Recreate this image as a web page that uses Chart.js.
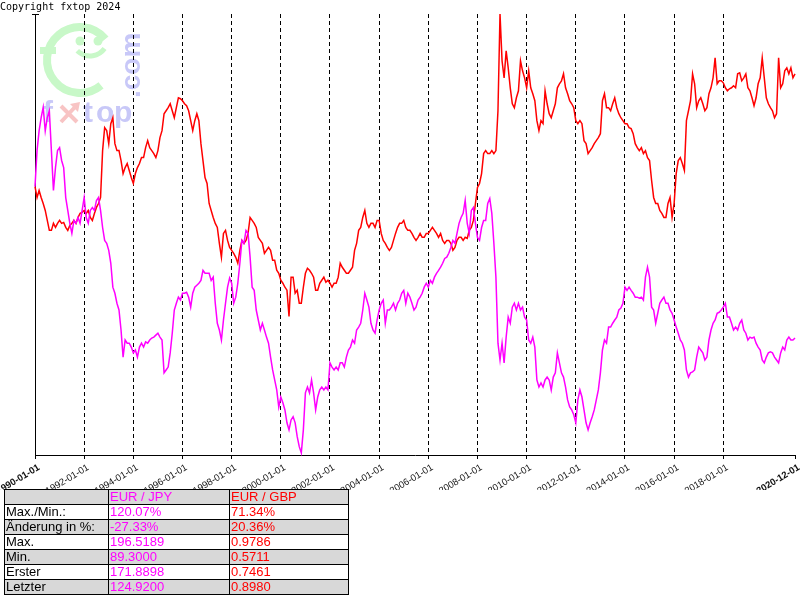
<!DOCTYPE html>
<html>
<head>
<meta charset="utf-8">
<script src="https://cdn.jsdelivr.net/npm/chart.js@4.4.1/dist/chart.umd.min.js"></script>
<style>
body { margin: 0; background: #fff; width: 800px; height: 600px; overflow: hidden; }
#wrap { position: absolute; left: 0; top: 0; width: 800px; height: 490px; }
#stats { position: absolute; left: 4px; top: 489px; border-collapse: collapse; table-layout: fixed;
  font: 13px "Liberation Sans", Arial, sans-serif; }
#stats td { border: 1px solid #000; height: 14px; line-height: 14px; padding: 0 0 0 1px; white-space: nowrap; overflow: hidden; }
#stats tr.g td { background: #d8d8d8; }
#stats td.j { color: #ff00ff; }
#stats td.r { color: #ff0000; }
</style>
</head>
<body>
<div id="wrap"><canvas id="chart" width="800" height="490"></canvas></div>
<table id="stats">
  <colgroup><col style="width:104px"><col style="width:121px"><col style="width:119px"></colgroup>
  <tbody id="statsBody"></tbody>
</table>
<script>
// monthly values, 1990-01 .. 2020-12
const jpyRates = [
  171.89, 183.1, 189.2, 193.3, 196.5, 189.2, 193.3, 195.4, 183.1, 170.7, 177.8, 183.1,
  184.0, 180.0, 177.8, 168.5, 164.5, 160.5, 157.4, 161.4, 160.5, 162.3, 160.5, 164.5,
  168.5, 162.3, 160.5, 164.5, 165.4, 164.5, 167.6, 168.5, 164.5, 159.2, 155.2, 154.3,
  152.1, 148.1, 140.7, 138.8, 135.7, 133.6, 127.4, 119.0, 124.3, 123.3, 123.3, 122.1,
  120.3, 121.2, 119.0, 122.1, 123.3, 122.1, 123.7, 123.3, 124.3, 124.9, 125.2, 125.8,
  126.4, 125.2, 124.3, 114.1, 115.0, 115.9, 120.3, 126.4, 133.6, 135.7, 137.6, 136.7,
  138.8, 138.8, 139.1, 137.6, 134.5, 138.8, 140.7, 141.3, 141.9, 142.8, 145.9, 145.0,
  145.0, 145.0, 142.8, 143.8, 135.7, 129.5, 127.4, 124.3, 130.5, 135.7, 140.7, 143.5,
  141.9, 135.7, 137.6, 141.9, 148.1, 155.2, 154.3, 158.3, 157.4, 150.0, 140.7, 139.7,
  133.6, 130.5, 127.4, 129.5, 127.4, 125.2, 123.3, 119.0, 115.0, 111.9, 108.8, 103.5,
  106.6, 104.8, 102.6, 98.6, 96.4, 99.5, 100.5, 98.6, 94.3, 91.2, 89.3, 96.4,
  107.9, 109.7, 107.9, 111.9, 107.9, 102.6, 106.6, 108.8, 109.7, 108.8, 109.7, 108.8,
  117.2, 115.9, 115.0, 115.9, 115.0, 117.2, 117.2, 115.9, 119.0, 121.2, 122.1, 124.3,
  123.3, 127.4, 128.3, 129.5, 133.6, 138.8, 136.7, 134.5, 129.5, 127.4, 126.4, 130.5,
  133.6, 135.7, 136.7, 129.5, 133.6, 133.6, 134.5, 135.7, 133.6, 135.7, 136.7, 138.8,
  139.7, 135.7, 138.8, 137.6, 135.7, 133.6, 134.5, 136.7, 137.6, 138.8, 140.7, 141.9,
  140.7, 142.8, 141.9, 143.8, 145.0, 145.9, 146.9, 148.1, 149.6, 150.0, 151.2, 153.0,
  155.2, 154.3, 157.4, 160.5, 162.3, 163.6, 167.6, 160.5, 157.4, 164.5, 165.4, 160.5,
  156.1, 155.2, 159.2, 161.4, 161.4, 166.7, 168.2, 163.6, 154.3, 143.8, 123.3, 118.1,
  123.3, 117.2, 125.2, 131.4, 129.5, 134.5, 135.7, 133.6, 135.7, 133.6, 134.5, 131.4,
  130.5, 124.3, 123.3, 125.2, 122.1, 111.9, 109.7, 111.0, 109.7, 111.9, 112.8, 111.9,
  108.8, 112.8, 114.1, 120.3, 117.2, 114.1, 112.8, 109.7, 105.7, 103.5, 102.6, 101.1,
  98.6, 105.7, 108.8, 106.6, 102.6, 98.6, 96.4, 98.6, 100.5, 102.6, 105.7, 108.8,
  114.1, 121.2, 124.3, 123.3, 128.3, 128.3, 129.5, 130.5, 131.4, 133.6, 134.2, 135.7,
  140.7, 139.7, 140.7, 139.7, 138.8, 137.6, 137.6, 137.3, 137.6, 136.7, 143.8, 146.9,
  143.8, 134.5, 133.6, 129.5, 132.6, 135.7, 136.7, 137.6, 135.7, 135.7, 133.6, 132.6,
  130.5, 128.3, 126.4, 124.3, 123.3, 121.2, 115.0, 112.8, 114.1, 114.4, 115.0, 119.0,
  122.1, 121.2, 120.3, 118.1, 119.0, 124.3, 127.4, 129.5, 130.5, 132.6, 132.9, 133.6,
  134.5, 135.7, 131.4, 131.4, 129.5, 127.4, 128.3, 127.4, 129.5, 130.5, 127.4, 126.4,
  124.3, 125.2, 124.9, 125.2, 123.3, 122.1, 121.2, 118.1, 117.2, 119.0, 120.3, 120.6,
  120.3, 119.0, 118.1, 117.2, 120.3, 122.1, 121.2, 124.3, 125.2, 124.3, 124.3, 124.92
];

const gbpRates = [
  0.7461, 0.7315, 0.7409, 0.7315, 0.7234, 0.7140, 0.7006, 0.6872, 0.6872, 0.6966, 0.6912, 0.6966,
  0.7006, 0.6966, 0.6979, 0.6912, 0.6872, 0.6939, 0.6966, 0.7006, 0.6966, 0.7046, 0.7100, 0.7113,
  0.7140, 0.7100, 0.7140, 0.7046, 0.7006, 0.7100, 0.7181, 0.7234, 0.7315, 0.7946, 0.8255, 0.8215,
  0.8040, 0.8309, 0.8389, 0.8040, 0.7946, 0.7946, 0.7812, 0.7637, 0.7718, 0.7772, 0.7678, 0.7584,
  0.7503, 0.7637, 0.7718, 0.7772, 0.7852, 0.7852, 0.7986, 0.8080, 0.7986, 0.7946, 0.7906, 0.7852,
  0.7946, 0.8121, 0.8215, 0.8443, 0.8483, 0.8524, 0.8577, 0.8483, 0.8389, 0.8524, 0.8658, 0.8645,
  0.8618, 0.8577, 0.8550, 0.8483, 0.8349, 0.8215, 0.8349, 0.8443, 0.8349, 0.8040, 0.7812, 0.7584,
  0.7503, 0.7234, 0.7140, 0.7046, 0.6966, 0.6912, 0.6697, 0.6509, 0.6831, 0.6872, 0.6737, 0.6643,
  0.6603, 0.6563, 0.6509, 0.6429, 0.6603, 0.6737, 0.6697, 0.6737, 0.6831, 0.7046, 0.7006, 0.6966,
  0.6912, 0.6778, 0.6737, 0.6697, 0.6563, 0.6603, 0.6643, 0.6603, 0.6469, 0.6469, 0.6335, 0.6294,
  0.6200, 0.6160, 0.6106, 0.6066, 0.5711, 0.6241, 0.6241, 0.6026, 0.6066, 0.5891, 0.5891, 0.6106,
  0.6294, 0.6361, 0.6335, 0.6294, 0.6241, 0.6066, 0.6066, 0.6160, 0.6200, 0.6241, 0.6173, 0.6200,
  0.6160, 0.6106, 0.6160, 0.6160, 0.6241, 0.6429, 0.6375, 0.6335, 0.6294, 0.6294, 0.6335, 0.6375,
  0.6603, 0.6697, 0.6872, 0.6912, 0.7046, 0.7140, 0.6966, 0.6912, 0.6966, 0.6966, 0.6912, 0.7006,
  0.7006, 0.6831, 0.6737, 0.6697, 0.6643, 0.6603, 0.6643, 0.6737, 0.6831, 0.6912, 0.6966, 0.6966,
  0.7006, 0.6912, 0.6872, 0.6872, 0.6831, 0.6778, 0.6737, 0.6778, 0.6831, 0.6778, 0.6778, 0.6831,
  0.6831, 0.6872, 0.6912, 0.6872, 0.6831, 0.6778, 0.6831, 0.6737, 0.6697, 0.6737, 0.6737, 0.6697,
  0.6603, 0.6643, 0.6737, 0.6778, 0.6778, 0.6737, 0.6778, 0.6764, 0.6872, 0.6912, 0.7006, 0.7234,
  0.7449, 0.7503, 0.7637, 0.7906, 0.7946, 0.7906, 0.7906, 0.7946, 0.7906, 0.7946, 0.8483, 0.9786,
  0.9155, 0.8926, 0.9289, 0.9061, 0.8792, 0.8577, 0.8524, 0.8658, 0.8752, 0.9155, 0.9021, 0.8926,
  0.8792, 0.9021, 0.8792, 0.8712, 0.8618, 0.8349, 0.8215, 0.8349, 0.8309, 0.8752, 0.8577, 0.8443,
  0.8389, 0.8483, 0.8577, 0.8792, 0.8846, 0.8886, 0.8980, 0.8792, 0.8712, 0.8618, 0.8577, 0.8524,
  0.8349, 0.8309, 0.8349, 0.8309, 0.8080, 0.8040, 0.7906, 0.7946, 0.7986, 0.8040, 0.8080, 0.8121,
  0.8174, 0.8618, 0.8712, 0.8524, 0.8524, 0.8483, 0.8577, 0.8658, 0.8524, 0.8443, 0.8389, 0.8349,
  0.8309, 0.8309, 0.8255, 0.8242, 0.8174, 0.8040, 0.7986, 0.7946, 0.7986, 0.7906, 0.7946, 0.7852,
  0.7812, 0.7543, 0.7315, 0.7234, 0.7234, 0.7140, 0.7100, 0.7046, 0.7046, 0.7234, 0.7315, 0.7046,
  0.7234, 0.7637, 0.7812, 0.7852, 0.7772, 0.7678, 0.8349, 0.8483, 0.8618, 0.8980, 0.8846, 0.8524,
  0.8618, 0.8658, 0.8577, 0.8483, 0.8524, 0.8712, 0.8792, 0.8926, 0.9195, 0.8846, 0.8886, 0.8886,
  0.8859, 0.8792, 0.8752, 0.8779, 0.8792, 0.8819, 0.8792, 0.8980, 0.8994, 0.8886, 0.8926, 0.8980,
  0.8792, 0.8752, 0.8658, 0.8550, 0.8658, 0.8846, 0.8926, 0.9195, 0.8926, 0.8658, 0.8577, 0.8524,
  0.8483, 0.8389, 0.8443, 0.9195, 0.8792, 0.8846, 0.9021, 0.9061, 0.8980, 0.9061, 0.8926, 0.8980
];

// x ticks: month index since 1990-01
const tickMonths = [0, 24, 48, 72, 96, 120, 144, 168, 192, 216, 240, 264, 288, 312, 336, 371];
const tickLabels = ['1990-01-01', '1992-01-01', '1994-01-01', '1996-01-01', '1998-01-01', '2000-01-01',
  '2002-01-01', '2004-01-01', '2006-01-01', '2008-01-01', '2010-01-01', '2012-01-01',
  '2014-01-01', '2016-01-01', '2018-01-01', '2020-12-01'];

// stats table
const pairs = ['EUR / JPY', 'EUR / GBP'];
const statRows = ['Max./Min.:', 'Änderung in %:', 'Max.', 'Min.', 'Erster', 'Letzter'];
const jpyStats = ['120.07%', '-27.33%', '196.5189', '89.3000', '171.8898', '124.9200'];
const gbpStats = ['71.34%', '20.36%', '0.9786', '0.5711', '0.7461', '0.8980'];

const jpyFirst = 171.8898, jpyMax = 196.5189, jpyMin = 89.3;
const gbpFirst = 0.7461, gbpMax = 0.9786, gbpMin = 0.5711;

// both lines are drawn relative to their first value
const yMin = Math.min(jpyMin / jpyFirst, gbpMin / gbpFirst) - 0.004;
const yMax = Math.max(jpyMax / jpyFirst, gbpMax / gbpFirst);

let body = '<tr class="g"><td></td><td class="j">' + pairs[0] + '</td><td class="r">' + pairs[1] + '</td></tr>';
statRows.forEach((lab, i) => {
  body += '<tr class="' + (i % 2 ? 'g' : '') + '"><td>' + lab + '</td><td class="j">' + jpyStats[i] +
    '</td><td class="r">' + gbpStats[i] + '</td></tr>';
});
document.getElementById('statsBody').innerHTML = body;

const lastTick = tickMonths.length - 1;
const isEnd = c => c.index === 0 || c.index === lastTick;

// watermark + copyright behind the grid, axis cap on top
const decor = {
  id: 'decor',
  beforeDraw(chart) {
    const ctx = chart.ctx;
    ctx.save();
    ctx.fillStyle = '#000';
    ctx.font = '10px "DejaVu Sans Mono", monospace';
    ctx.textBaseline = 'alphabetic';
    ctx.fillText('Copyright fxtop 2024', 0, 10);

    // smiley
    ctx.strokeStyle = '#c8f8c8';
    ctx.fillStyle = '#c8f8c8';
    ctx.lineWidth = 8;
    ctx.beginPath();
    ctx.arc(80, 60, 33, -0.22 * Math.PI, 0.28 * Math.PI, true);
    ctx.stroke();
    ctx.fillRect(40, 47, 16, 7);
    ctx.beginPath(); ctx.arc(80, 41, 4.5, 0, 2 * Math.PI); ctx.fill();
    ctx.beginPath(); ctx.arc(98, 41, 4.5, 0, 2 * Math.PI); ctx.fill();
    ctx.lineWidth = 5;
    ctx.beginPath();
    ctx.arc(90, 38, 18, 0.2 * Math.PI, 0.75 * Math.PI);
    ctx.stroke();

    // fxtop
    ctx.fillStyle = '#c8c8f8';
    ctx.font = 'bold 30px "Liberation Sans", Arial, sans-serif';
    ctx.fillText('f', 43, 122);
    ctx.fillText('t', 83, 122);
    ctx.fillText('o', 96, 122);
    ctx.fillText('p', 114, 122);
    ctx.strokeStyle = '#f8c4c4';
    ctx.lineWidth = 4;
    ctx.beginPath();
    ctx.moveTo(61, 106); ctx.lineTo(77, 122);
    ctx.moveTo(61, 122); ctx.lineTo(76, 106);
    ctx.stroke();
    ctx.fillStyle = '#f8c4c4';
    ctx.beginPath();
    ctx.moveTo(80, 102); ctx.lineTo(70, 104); ctx.lineTo(78, 112); ctx.closePath();
    ctx.fill();

    // .com
    ctx.fillStyle = '#c8c8f8';
    ctx.translate(140, 98);
    ctx.rotate(-Math.PI / 2);
    ctx.font = 'bold 28px "Liberation Sans", Arial, sans-serif';
    ctx.fillText('.com', 0, 0);
    ctx.restore();
  },
  afterDraw(chart) {
    const ctx = chart.ctx;
    const a = chart.chartArea;
    ctx.save();
    ctx.strokeStyle = '#000';
    ctx.lineWidth = 1;
    ctx.beginPath();
    ctx.moveTo(a.left - 3, a.top + 0.5);
    ctx.lineTo(a.left + 4, a.top + 0.5);
    ctx.stroke();
    ctx.restore();
  }
};

new Chart(document.getElementById('chart'), {
  type: 'line',
  data: {
    datasets: [{
      label: pairs[0],
      data: jpyRates.map((v, i) => ({ x: i, y: v / jpyFirst })),
      borderColor: '#ff00ff',
      borderWidth: 1.5,
      pointRadius: 0,
      tension: 0,
      clip: false,
    }, {
      label: pairs[1],
      data: gbpRates.map((v, i) => ({ x: i, y: v / gbpFirst })),
      borderColor: '#ff0000',
      borderWidth: 1.5,
      pointRadius: 0,
      tension: 0,
      clip: false,
    }],
  },
  options: {
    responsive: false,
    animation: false,
    layout: { padding: { left: 0, top: 14, right: 5, bottom: 0 } },
    plugins: { legend: { display: false }, tooltip: { enabled: false } },
    scales: {
      x: {
        type: 'linear',
        min: 0,
        max: 371,
        afterBuildTicks: s => { s.ticks = tickMonths.map(v => ({ value: v })); },
        afterFit: s => { s.height = 35; s.paddingLeft = 0; s.paddingRight = 0; },
        ticks: {
          autoSkip: false,
          minRotation: 31,
          maxRotation: 31,
          padding: 3,
          labelOffset: 4,
          color: '#111',
          font: c => ({ family: '"Liberation Sans", Arial, sans-serif', size: 9.5, weight: isEnd(c) ? 'bold' : 'normal' }),
          callback: (v, i) => tickLabels[i],
        },
        grid: {
          color: c => isEnd(c) ? 'rgba(0,0,0,0)' : '#000',
          tickColor: '#000',
          tickLength: 4,
          lineWidth: 1,
        },
        border: { color: '#000', width: 1, dash: [4, 3] },
      },
      y: {
        min: yMin,
        max: yMax,
        afterFit: s => { s.width = 35; },
        ticks: { display: false },
        grid: { display: false },
        border: { color: '#000', width: 1 },
      },
    },
  },
  plugins: [decor],
});
</script>
</body>
</html>
